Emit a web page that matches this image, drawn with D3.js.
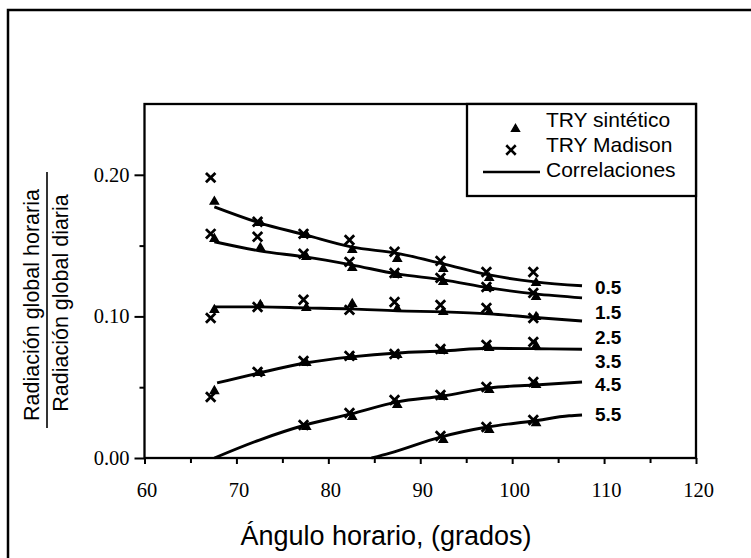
<!DOCTYPE html>
<html><head><meta charset="utf-8">
<script src="https://cdn.jsdelivr.net/npm/d3@7"></script>
<style>body{margin:0;background:#fff} svg{display:block}</style>
</head><body><svg id="c" width="751" height="558"></svg>
<script>
// ---- data ----
const xTickValues = [60, 70, 80, 90, 100, 110, 120];
const xMinorTicks = [65, 75, 85, 95, 105, 115];
const yTickValues = [0.00, 0.10, 0.20];
const yMinorTicks = [0.05, 0.15];

const hourLabels = ["0.5", "1.5", "2.5", "3.5", "4.5", "5.5"];
const hourLabelY = [0.1201, 0.1025, 0.0848, 0.0678, 0.0516, 0.0304];
const hourLabelX = 109.0;

// hour angle of the measured points
const madisonX = [67.2, 72.3, 77.3, 82.3, 87.2, 92.2, 97.2, 102.3];
const sinteticoX = [67.6, 72.6, 77.6, 82.6, 87.5, 92.5, 97.5, 102.6];

// TRY Madison (x markers), one array per curve
const madison05 = [0.198, 0.1668, 0.1583, 0.154, 0.1456, 0.1392, 0.1314, 0.1314];
const madison15 = [0.1583, 0.1562, 0.1442, 0.1385, 0.1307, 0.1272, 0.1208, 0.1166];
const madison25 = [0.0989, 0.1067, 0.1117, 0.1046, 0.1102, 0.1081, 0.106, 0.0989];
const madison35 = [0.0431, 0.0608, 0.0686, 0.0721, 0.0735, 0.077, 0.0799, 0.082];
const madison45 = [null, null, 0.0233, 0.0318, 0.041, 0.0445, 0.0502, 0.0537];
const madison55 = [null, null, null, null, null, 0.0155, 0.0219, 0.0269];

// TRY sintético (triangles)
const sintetico05 = [0.181, 0.166, 0.1576, 0.147, 0.1406, 0.1336, 0.1272, 0.1237];
const sintetico15 = [0.1548, 0.1484, 0.142, 0.1343, 0.1293, 0.1244, 0.1201, 0.1138];
const sintetico25 = [0.1046, 0.1081, 0.106, 0.1088, 0.1053, 0.1032, 0.1032, 0.0996];
const sintetico35 = [0.0473, 0.0601, 0.0671, 0.0714, 0.0728, 0.0756, 0.0777, 0.0792];
const sintetico45 = [null, null, 0.0219, 0.029, 0.0375, 0.0431, 0.0481, 0.0516];
const sintetico55 = [null, null, null, null, null, 0.0127, 0.0198, 0.0247];

// Correlaciones (lines)
const corrX = [67.6, 72.5, 77.5, 82.5, 87.5, 92.5, 97.5, 102.5, 107.6];
const corrX35 = [67.9, 72.5, 77.5, 82.5, 87.5, 92.5, 97.5, 102.5, 107.6];
const corrX55 = [84.7, 86.7, 92.2, 97.3, 102.3, 106.2, 107.6];
const corr05 = [0.1774, 0.1661, 0.1576, 0.1491, 0.1445, 0.1371, 0.1293, 0.1244, 0.1216];
const corr15 = [0.1527, 0.1463, 0.142, 0.1364, 0.130, 0.1258, 0.1201, 0.1159, 0.1131];
const corr25 = [0.1067, 0.1067, 0.106, 0.1053, 0.1039, 0.1032, 0.1018, 0.0992, 0.0968];
const corr35 = [0.053, 0.0601, 0.0671, 0.0714, 0.0742, 0.0756, 0.0775, 0.0772, 0.0768];
const corr45 = [0, 0.0127, 0.0233, 0.0311, 0.0396, 0.0438, 0.0495, 0.0516, 0.0537];
const corr55 = [0, 0.0035, 0.0148, 0.0219, 0.0261, 0.0298, 0.0304];

const legendLabels = ["TRY sintético", "TRY Madison", "Correlaciones"];
const xTitle = "Ángulo horario, (grados)";
const yTitleTop = "Radiación global horaria";
const yTitleBottom = "Radiación global diaria";

// ---- drawing ----
const svg = d3.select("#c");
const x = d3.scaleLinear().domain([60, 120]).range([144.5, 696]);
const y = d3.scaleLinear().domain([0, 0.25]).range([458, 104]);

// outer figure frame
svg.append("rect").attr("x", 8).attr("y", 10).attr("width", 770).attr("height", 580)
  .attr("fill", "none").attr("stroke", "#000").attr("stroke-width", 2.5);

const serif = "'Liberation Serif','Times New Roman',serif";
const sans = "'Liberation Sans',Arial,Helvetica,sans-serif";

// x axis: minor ticks + major ticks with labels
const gx = svg.append("g").attr("transform", `translate(0,${y(0)})`);
gx.call(d3.axisBottom(x).tickValues(xMinorTicks).tickSize(5).tickFormat(""));
const gxM = svg.append("g").attr("transform", `translate(0,${y(0)})`);
gxM.call(d3.axisBottom(x).tickValues(xTickValues).tickSize(6).tickPadding(18).tickFormat(d3.format("d")));
gxM.selectAll("text").attr("font-family", serif).attr("font-size", 20.5).attr("fill", "#000").attr("dx", 2);
[gx, gxM].forEach(g => {
  g.select(".domain").remove();
  g.selectAll("line").attr("stroke", "#000").attr("stroke-width", 2);
});

// y axis
const gy = svg.append("g").attr("transform", `translate(${x(60)},0)`);
gy.call(d3.axisLeft(y).tickValues(yMinorTicks).tickSize(5).tickFormat(""));
const gyM = svg.append("g").attr("transform", `translate(${x(60)},0)`);
gyM.call(d3.axisLeft(y).tickValues(yTickValues).tickSize(10).tickPadding(5).tickFormat(d3.format(".2f")));
gyM.selectAll("text").attr("font-family", serif).attr("font-size", 20.5).attr("fill", "#000");
[gy, gyM].forEach(g => {
  g.select(".domain").remove();
  g.selectAll("line").attr("stroke", "#000").attr("stroke-width", 2);
});

// plot frame
svg.append("rect").attr("x", x(60)).attr("y", y(0.25))
  .attr("width", x(120) - x(60)).attr("height", y(0) - y(0.25))
  .attr("fill", "none").attr("stroke", "#000").attr("stroke-width", 2.3);

// correlation lines
const curves = [
  {xs: corrX, ys: corr05}, {xs: corrX, ys: corr15}, {xs: corrX, ys: corr25},
  {xs: corrX35, ys: corr35}, {xs: corrX, ys: corr45}, {xs: corrX55, ys: corr55}
];
const line = d3.line().x(d => x(d[0])).y(d => y(d[1])).curve(d3.curveMonotoneX);
curves.forEach(c => {
  svg.append("path").datum(c.xs.map((v, i) => [v, c.ys[i]]))
    .attr("d", line).attr("fill", "none").attr("stroke", "#000").attr("stroke-width", 2.9);
});

// markers
const triSym = d3.symbol().type(d3.symbolTriangle).size(30);
const xSym = d3.symbol().type(d3.symbolX).size(60);
const sinteticoSeries = [sintetico05, sintetico15, sintetico25, sintetico35, sintetico45, sintetico55];
const madisonSeries = [madison05, madison15, madison25, madison35, madison45, madison55];
sinteticoSeries.forEach(s => {
  svg.append("g").selectAll("path")
    .data(s.map((v, i) => [sinteticoX[i], v]).filter(d => d[1] != null))
    .join("path").attr("d", triSym)
    .attr("transform", d => `translate(${x(d[0])},${y(d[1])})`)
    .attr("fill", "#000").attr("stroke", "#000").attr("stroke-width", 1.4);
});
madisonSeries.forEach(s => {
  svg.append("g").selectAll("path")
    .data(s.map((v, i) => [madisonX[i], v]).filter(d => d[1] != null))
    .join("path").attr("d", xSym)
    .attr("transform", d => `translate(${x(d[0])},${y(d[1])})`)
    .attr("fill", "none").attr("stroke", "#000").attr("stroke-width", 2.8);
});

// hour labels
svg.append("g").selectAll("text").data(hourLabels).join("text")
  .attr("x", x(hourLabelX)).attr("y", (d, i) => y(hourLabelY[i]))
  .attr("dominant-baseline", "central")
  .attr("font-family", sans).attr("font-size", 19).attr("font-weight", "bold")
  .text(d => d);

// legend
const lg = svg.append("g");
lg.append("rect").attr("x", 467).attr("y", y(0.25)).attr("width", x(120) - 467).attr("height", 92)
  .attr("fill", "#fff").attr("stroke", "#000").attr("stroke-width", 2.3);
lg.append("path").attr("d", triSym).attr("transform", "translate(515.5,129)")
  .attr("fill", "#000").attr("stroke", "#000").attr("stroke-width", 1.2);
lg.append("path").attr("d", xSym).attr("transform", "translate(511,150)")
  .attr("fill", "none").attr("stroke", "#000").attr("stroke-width", 2.6);
lg.append("line").attr("x1", 483).attr("x2", 540).attr("y1", 172).attr("y2", 172)
  .attr("stroke", "#000").attr("stroke-width", 2.6);
lg.selectAll("text").data(legendLabels).join("text")
  .attr("x", 546).attr("y", (d, i) => 127 + i * 25)
  .attr("font-family", sans).attr("font-size", 21).text(d => d);

// x title
svg.append("text").attr("x", 386).attr("y", 545).attr("text-anchor", "middle")
  .attr("font-family", sans).attr("font-size", 27).text(xTitle);

// y title (fraction)
svg.append("text").attr("transform", "translate(39,305) rotate(-90)").attr("text-anchor", "middle")
  .attr("font-family", sans).attr("font-size", 21.5).text(yTitleTop);
svg.append("text").attr("transform", "translate(68,303) rotate(-90)").attr("text-anchor", "middle")
  .attr("font-family", sans).attr("font-size", 21.5).text(yTitleBottom);
svg.append("line").attr("x1", 47).attr("x2", 47).attr("y1", 172).attr("y2", 428)
  .attr("stroke", "#000").attr("stroke-width", 1.6);
</script></body></html>
